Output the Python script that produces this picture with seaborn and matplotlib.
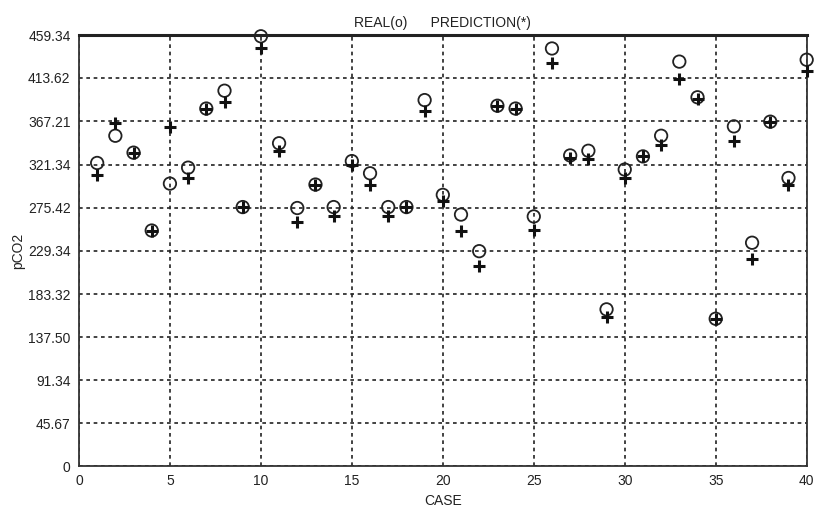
import matplotlib
matplotlib.use("Agg")
import matplotlib.pyplot as plt
import seaborn as sns
import pandas as pd

# pCO2 per case: measured values and model predictions
cases = list(range(1, 41))
real = [323, 352, 334, 251, 301, 318, 381, 400, 276, 458,
        344, 275, 300, 276, 325, 312, 276, 276, 390, 289,
        268, 229, 384, 381, 266, 445, 331, 336, 167, 316,
        330, 352, 431, 393, 157, 362, 238, 367, 307, 433]
prediction = [310, 366, 334, 251, 361, 307, 381, 388, 276, 446,
              336, 260, 300, 266, 321, 300, 266, 276, 378, 283,
              251, 213, 384, 381, 252, 430, 328, 327, 159, 307,
              330, 342, 413, 391, 157, 346, 221, 367, 300, 421]

ytick_vals = [0, 45.67, 91.34, 137.50, 183.32, 229.34, 275.42, 321.34, 367.21, 413.62, 459.34]
ytick_labels = ["0", "45.67", "91.34", "137.50", "183.32", "229.34", "275.42",
                "321.34", "367.21", "413.62", "459.34"]
xtick_vals = [0, 5, 10, 15, 20, 25, 30, 35, 40]

df = pd.DataFrame({"CASE": cases, "REAL": real, "PREDICTION": prediction})

sns.set_style("white")
plt.rcParams["font.family"] = ["Liberation Sans Narrow", "Liberation Sans", "DejaVu Sans"]

fig = plt.figure(figsize=(8.14, 5.15), dpi=100)
ax = fig.add_axes([0.097, 0.095, 0.894, 0.837])

sns.scatterplot(data=df, x="CASE", y="REAL", marker="o", s=80,
                facecolors="none", edgecolor="#222222", linewidth=1.3, ax=ax,
                zorder=3, clip_on=False)
sns.scatterplot(data=df, x="CASE", y="PREDICTION", marker="+", s=70,
                color="#111111", linewidth=2.2, ax=ax, zorder=4, clip_on=False)

ax.set_xlim(0, 40)
ax.set_ylim(0, 459.34)
ax.set_xticks(xtick_vals)
ax.set_xticklabels([str(v) for v in xtick_vals])
ax.set_yticks(ytick_vals)
ax.set_yticklabels(ytick_labels)
ax.tick_params(axis="both", labelsize=10, colors="#222222", length=0, pad=6)

ax.grid(True, color="#222222", linestyle=(0, (2.2, 2.2)), linewidth=1.2)
ax.set_axisbelow(True)
for side in ["left", "right", "bottom"]:
    ax.spines[side].set_color("#333333")
    ax.spines[side].set_linewidth(1.3)
ax.spines["top"].set_color("#222222")
ax.spines["top"].set_linewidth(2.2)

ax.set_xlabel("CASE", fontsize=10, color="#222222", labelpad=4)
ax.set_ylabel("pCO2", fontsize=10, color="#222222", labelpad=2)
ax.set_title("REAL(o)      PREDICTION(*)", fontsize=10, color="#222222", pad=6)

fig.savefig("out.png", dpi=100)
